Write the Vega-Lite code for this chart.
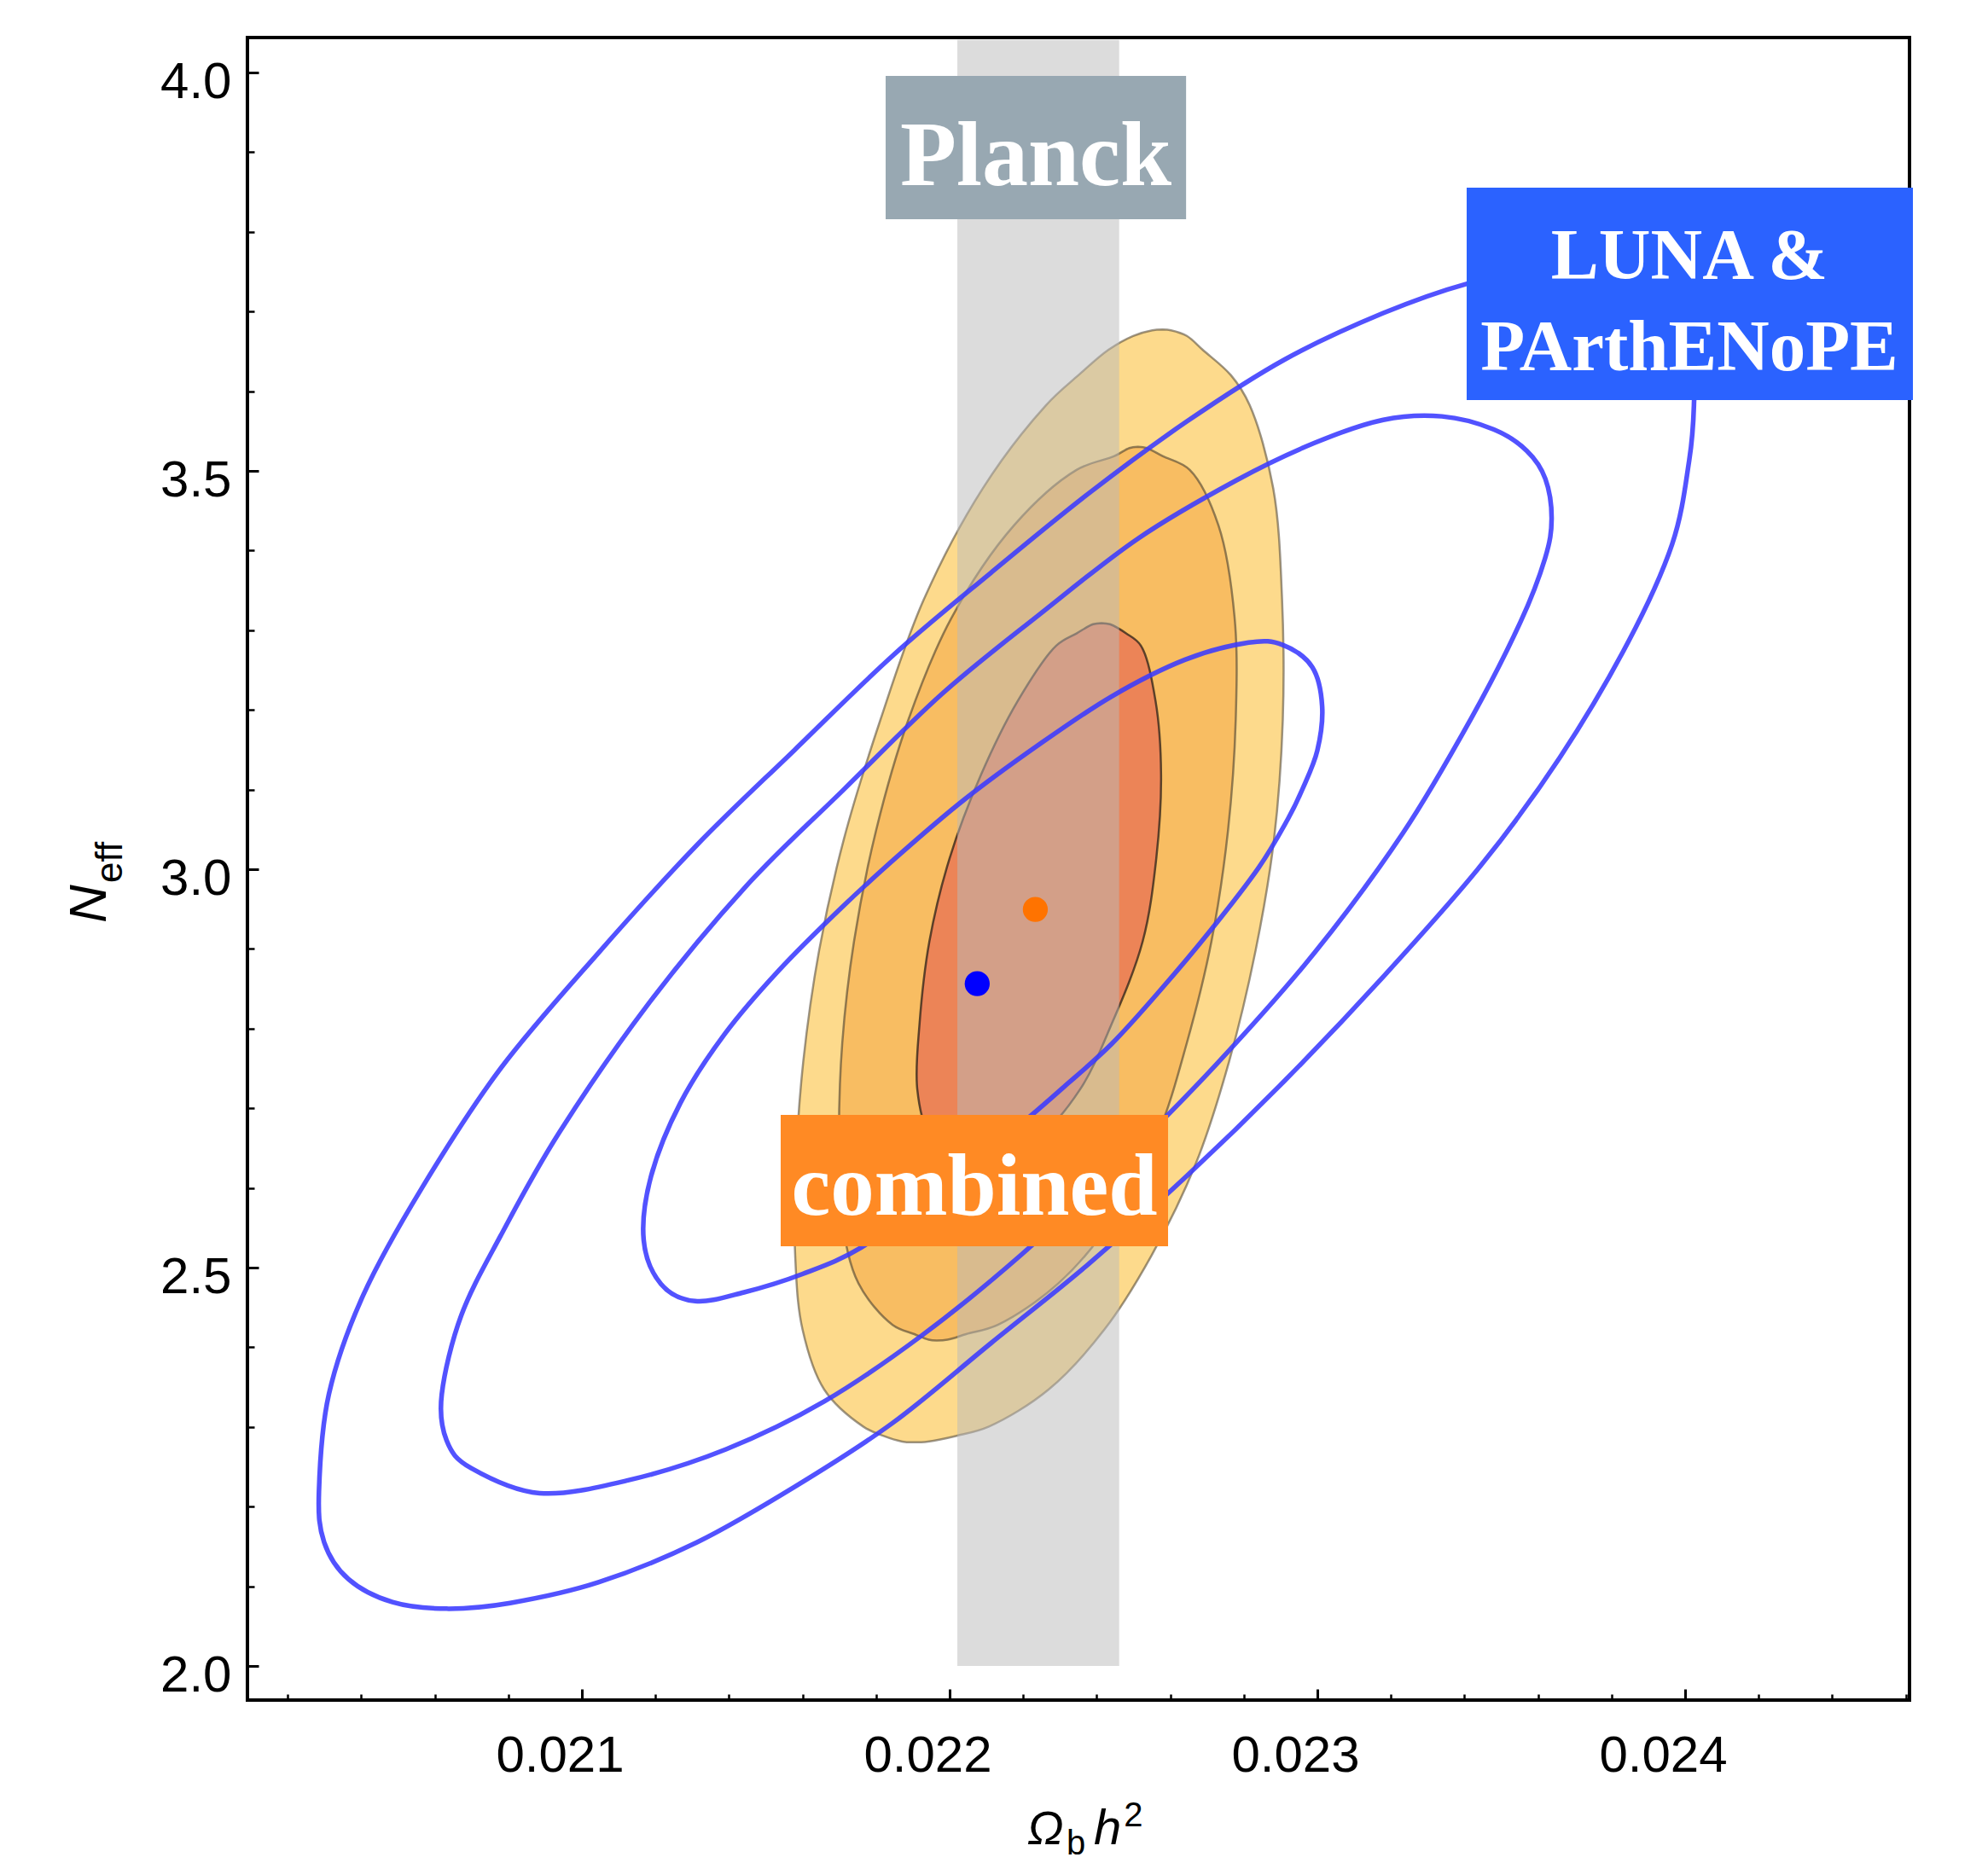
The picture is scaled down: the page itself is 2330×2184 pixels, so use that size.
{
  "$schema": "https://vega.github.io/schema/vega-lite/v6.json",
  "width": 1948,
  "height": 1949,
  "autosize": "none",
  "padding": {"left": 290, "top": 44, "right": 92, "bottom": 191},
  "background": "white",
  "config": {"view": {"stroke": "black", "strokeWidth": 4}},
  "datasets": {
    "o3": [
      {"y": 3.6775, "xl": 0.022579, "xr": 0.022579},
      {"y": 3.6765, "xl": 0.022551, "xr": 0.022602},
      {"y": 3.6694, "xl": 0.022499, "xr": 0.022645},
      {"y": 3.6520, "xl": 0.022432, "xr": 0.022688},
      {"y": 3.6200, "xl": 0.022350, "xr": 0.022765},
      {"y": 3.5824, "xl": 0.022262, "xr": 0.022816},
      {"y": 3.4780, "xl": 0.022090, "xr": 0.022880},
      {"y": 3.3388, "xl": 0.021930, "xr": 0.022904},
      {"y": 3.1879, "xl": 0.021812, "xr": 0.022906},
      {"y": 3.0371, "xl": 0.021712, "xr": 0.022882},
      {"y": 2.8979, "xl": 0.021645, "xr": 0.022832},
      {"y": 2.7587, "xl": 0.021602, "xr": 0.022760},
      {"y": 2.6311, "xl": 0.021582, "xr": 0.022670},
      {"y": 2.5151, "xl": 0.021580, "xr": 0.022549},
      {"y": 2.4223, "xl": 0.021600, "xr": 0.022421},
      {"y": 2.3469, "xl": 0.021659, "xr": 0.022269},
      {"y": 2.3005, "xl": 0.021765, "xr": 0.022107},
      {"y": 2.2889, "xl": 0.021819, "xr": 0.022019},
      {"y": 2.2817, "xl": 0.021871, "xr": 0.021941},
      {"y": 2.2807, "xl": 0.021899, "xr": 0.021899}
    ],
    "o2": [
      {"y": 3.5302, "xl": 0.022512, "xr": 0.022512},
      {"y": 3.5287, "xl": 0.022489, "xr": 0.022536},
      {"y": 3.5186, "xl": 0.022448, "xr": 0.022579},
      {"y": 3.5012, "xl": 0.022345, "xr": 0.022653},
      {"y": 3.4316, "xl": 0.022175, "xr": 0.022731},
      {"y": 3.3155, "xl": 0.022005, "xr": 0.022775},
      {"y": 3.1879, "xl": 0.021888, "xr": 0.022778},
      {"y": 3.0487, "xl": 0.021800, "xr": 0.022757},
      {"y": 2.9095, "xl": 0.021740, "xr": 0.022712},
      {"y": 2.7819, "xl": 0.021708, "xr": 0.022645},
      {"y": 2.6659, "xl": 0.021699, "xr": 0.022565},
      {"y": 2.5615, "xl": 0.021707, "xr": 0.022445},
      {"y": 2.4803, "xl": 0.021752, "xr": 0.022296},
      {"y": 2.4281, "xl": 0.021845, "xr": 0.022131},
      {"y": 2.4165, "xl": 0.021904, "xr": 0.022045},
      {"y": 2.4095, "xl": 0.021943, "xr": 0.021994},
      {"y": 2.4084, "xl": 0.021965, "xr": 0.021965}
    ],
    "o1": [
      {"y": 3.3090, "xl": 0.022413, "xr": 0.022413},
      {"y": 3.3075, "xl": 0.022390, "xr": 0.022436},
      {"y": 3.2960, "xl": 0.022345, "xr": 0.022480},
      {"y": 3.2807, "xl": 0.022290, "xr": 0.022520},
      {"y": 3.2111, "xl": 0.022185, "xr": 0.022560},
      {"y": 3.1183, "xl": 0.022085, "xr": 0.022575},
      {"y": 3.0139, "xl": 0.022000, "xr": 0.022562},
      {"y": 2.9095, "xl": 0.021945, "xr": 0.022525},
      {"y": 2.8051, "xl": 0.021918, "xr": 0.022440},
      {"y": 2.7239, "xl": 0.021912, "xr": 0.022355},
      {"y": 2.6659, "xl": 0.021944, "xr": 0.022245},
      {"y": 2.6485, "xl": 0.021979, "xr": 0.022133},
      {"y": 2.6369, "xl": 0.022059, "xr": 0.022059}
    ],
    "blue": [
      {"c": "3", "x": 0.020285, "y": 2.2193},
      {"c": "3", "x": 0.020299, "y": 2.1555},
      {"c": "3", "x": 0.020365, "y": 2.1091},
      {"c": "3", "x": 0.020485, "y": 2.0801},
      {"c": "3", "x": 0.020632, "y": 2.0719},
      {"c": "3", "x": 0.020805, "y": 2.0790},
      {"c": "3", "x": 0.021045, "y": 2.1050},
      {"c": "3", "x": 0.021312, "y": 2.1550},
      {"c": "3", "x": 0.021579, "y": 2.2250},
      {"c": "3", "x": 0.021845, "y": 2.3050},
      {"c": "3", "x": 0.022112, "y": 2.4050},
      {"c": "3", "x": 0.022379, "y": 2.5050},
      {"c": "3", "x": 0.022645, "y": 2.6150},
      {"c": "3", "x": 0.022912, "y": 2.7350},
      {"c": "3", "x": 0.023179, "y": 2.8650},
      {"c": "3", "x": 0.023445, "y": 3.0050},
      {"c": "3", "x": 0.023659, "y": 3.1400},
      {"c": "3", "x": 0.023845, "y": 3.2850},
      {"c": "3", "x": 0.023965, "y": 3.4084},
      {"c": "3", "x": 0.024011, "y": 3.5128},
      {"c": "3", "x": 0.024024, "y": 3.5824},
      {"c": "3", "x": 0.024021, "y": 3.6645},
      {"c": "3", "x": 0.023955, "y": 3.7110},
      {"c": "3", "x": 0.023835, "y": 3.7400},
      {"c": "3", "x": 0.023688, "y": 3.7480},
      {"c": "3", "x": 0.023515, "y": 3.7410},
      {"c": "3", "x": 0.023411, "y": 3.7355},
      {"c": "3", "x": 0.023179, "y": 3.6980},
      {"c": "3", "x": 0.022912, "y": 3.6400},
      {"c": "3", "x": 0.022645, "y": 3.5620},
      {"c": "3", "x": 0.022379, "y": 3.4720},
      {"c": "3", "x": 0.022112, "y": 3.3720},
      {"c": "3", "x": 0.021845, "y": 3.2680},
      {"c": "3", "x": 0.021579, "y": 3.1500},
      {"c": "3", "x": 0.021312, "y": 3.0300},
      {"c": "3", "x": 0.021045, "y": 2.8950},
      {"c": "3", "x": 0.020779, "y": 2.7500},
      {"c": "3", "x": 0.020565, "y": 2.6000},
      {"c": "3", "x": 0.020405, "y": 2.4650},
      {"c": "3", "x": 0.020312, "y": 2.3411},
      {"c": "2", "x": 0.020619, "y": 2.3411},
      {"c": "2", "x": 0.020632, "y": 2.2831},
      {"c": "2", "x": 0.020699, "y": 2.2483},
      {"c": "2", "x": 0.020885, "y": 2.2169},
      {"c": "2", "x": 0.021125, "y": 2.2330},
      {"c": "2", "x": 0.021392, "y": 2.2720},
      {"c": "2", "x": 0.021659, "y": 2.3320},
      {"c": "2", "x": 0.021925, "y": 2.4150},
      {"c": "2", "x": 0.022192, "y": 2.5150},
      {"c": "2", "x": 0.022459, "y": 2.6300},
      {"c": "2", "x": 0.022725, "y": 2.7550},
      {"c": "2", "x": 0.022992, "y": 2.8950},
      {"c": "2", "x": 0.023232, "y": 3.0450},
      {"c": "2", "x": 0.023419, "y": 3.1900},
      {"c": "2", "x": 0.023552, "y": 3.3100},
      {"c": "2", "x": 0.023619, "y": 3.3900},
      {"c": "2", "x": 0.023637, "y": 3.4400},
      {"c": "2", "x": 0.023620, "y": 3.4900},
      {"c": "2", "x": 0.023570, "y": 3.5250},
      {"c": "2", "x": 0.023480, "y": 3.5520},
      {"c": "2", "x": 0.023339, "y": 3.5684},
      {"c": "2", "x": 0.023179, "y": 3.5640},
      {"c": "2", "x": 0.022992, "y": 3.5350},
      {"c": "2", "x": 0.022779, "y": 3.4880},
      {"c": "2", "x": 0.022512, "y": 3.4150},
      {"c": "2", "x": 0.022245, "y": 3.3200},
      {"c": "2", "x": 0.021979, "y": 3.2200},
      {"c": "2", "x": 0.021712, "y": 3.1000},
      {"c": "2", "x": 0.021445, "y": 2.9780},
      {"c": "2", "x": 0.021179, "y": 2.8300},
      {"c": "2", "x": 0.020939, "y": 2.6700},
      {"c": "2", "x": 0.020779, "y": 2.5400},
      {"c": "2", "x": 0.020672, "y": 2.4400},
      {"c": "1", "x": 0.021168, "y": 2.5347},
      {"c": "1", "x": 0.021215, "y": 2.4795},
      {"c": "1", "x": 0.021308, "y": 2.4579},
      {"c": "1", "x": 0.021441, "y": 2.4690},
      {"c": "1", "x": 0.021600, "y": 2.4920},
      {"c": "1", "x": 0.021761, "y": 2.5255},
      {"c": "1", "x": 0.021950, "y": 2.5900},
      {"c": "1", "x": 0.022100, "y": 2.6450},
      {"c": "1", "x": 0.022214, "y": 2.6880},
      {"c": "1", "x": 0.022307, "y": 2.7253},
      {"c": "1", "x": 0.022440, "y": 2.7805},
      {"c": "1", "x": 0.022573, "y": 2.8482},
      {"c": "1", "x": 0.022707, "y": 2.9218},
      {"c": "1", "x": 0.022840, "y": 3.0018},
      {"c": "1", "x": 0.022920, "y": 3.0632},
      {"c": "1", "x": 0.022959, "y": 3.1001},
      {"c": "1", "x": 0.023000, "y": 3.1493},
      {"c": "1", "x": 0.023013, "y": 3.2046},
      {"c": "1", "x": 0.022986, "y": 3.2537},
      {"c": "1", "x": 0.022906, "y": 3.2814},
      {"c": "1", "x": 0.022813, "y": 3.2845},
      {"c": "1", "x": 0.022640, "y": 3.2630},
      {"c": "1", "x": 0.022440, "y": 3.2168},
      {"c": "1", "x": 0.022240, "y": 3.1554},
      {"c": "1", "x": 0.022041, "y": 3.0878},
      {"c": "1", "x": 0.021868, "y": 3.0202},
      {"c": "1", "x": 0.021708, "y": 2.9526},
      {"c": "1", "x": 0.021535, "y": 2.8727},
      {"c": "1", "x": 0.021388, "y": 2.7929},
      {"c": "1", "x": 0.021268, "y": 2.7068},
      {"c": "1", "x": 0.021188, "y": 2.6146}
    ],
    "best": [
      {"s": "combined", "x": 0.022233, "y": 2.9496},
      {"s": "LUNA", "x": 0.022075, "y": 2.8564}
    ]
  },
  "layer": [
    {
      "data": {"name": "o3"},
      "mark": {"type": "area", "orient": "horizontal", "interpolate": "catmull-rom", "fill": "#fdda8c", "fillOpacity": 1, "stroke": "#5a5040", "strokeOpacity": 0.6, "strokeWidth": 2.5},
      "encoding": {
        "x": {"field": "xl", "type": "quantitative",
          "scale": {"domain": [0.0200905, 0.0246102], "nice": false, "zero": false},
          "axis": {"orient": "bottom", "values": [0.021, 0.022, 0.023, 0.024], "format": ".3f", "ticks": false, "domain": false, "grid": false, "labelFont": "Liberation Sans", "labelFontSize": 60, "labelColor": "black", "labelPadding": 36, "labelOffset": -26, "labelFlush": false, "labelOverlap": false, "title": null}},
        "x2": {"field": "xr"},
        "y": {"field": "y", "type": "quantitative",
          "scale": {"domain": [1.9572, 4.0439], "nice": false, "zero": false},
          "axis": {"orient": "left", "values": [2, 2.5, 3, 3.5, 4], "format": ".1f", "ticks": false, "domain": false, "grid": false, "labelFont": "Liberation Sans", "labelFontSize": 60, "labelColor": "black", "labelPadding": 19, "labelOffset": 11, "labelFlush": false, "labelOverlap": false, "title": null}}
      }
    },
    {
      "data": {"name": "o2"},
      "mark": {"type": "area", "orient": "horizontal", "interpolate": "catmull-rom", "fill": "#f8bd62", "fillOpacity": 1, "stroke": "#4a4030", "strokeOpacity": 0.6, "strokeWidth": 2.5},
      "encoding": {
        "x": {"field": "xl", "type": "quantitative",
          "axis": {"orient": "bottom", "values": [0.021, 0.022, 0.023, 0.024], "labels": false, "domain": false, "grid": false, "ticks": true, "tickSize": -13, "tickWidth": 3, "tickColor": "black", "title": null}},
        "x2": {"field": "xr"},
        "y": {"field": "y", "type": "quantitative",
          "axis": {"orient": "left", "values": [2, 2.5, 3, 3.5, 4], "labels": false, "domain": false, "grid": false, "ticks": true, "tickSize": -13, "tickWidth": 3, "tickColor": "black", "title": null}}
      }
    },
    {
      "data": {"name": "o1"},
      "mark": {"type": "area", "orient": "horizontal", "interpolate": "catmull-rom", "fill": "#ec8457", "fillOpacity": 1, "stroke": "#2a2018", "strokeOpacity": 0.75, "strokeWidth": 2.5},
      "encoding": {
        "x": {"field": "xl", "type": "quantitative",
          "axis": {"orient": "bottom", "values": [0.0202, 0.0204, 0.0206, 0.0208, 0.021, 0.0212, 0.0214, 0.0216, 0.0218, 0.022, 0.0222, 0.0224, 0.0226, 0.0228, 0.023, 0.0232, 0.0234, 0.0236, 0.0238, 0.024, 0.0242, 0.0244, 0.0246], "labels": false, "domain": false, "grid": false, "ticks": true, "tickSize": -7, "tickWidth": 2.5, "tickColor": "black", "title": null}},
        "x2": {"field": "xr"},
        "y": {"field": "y", "type": "quantitative",
          "axis": {"orient": "left", "values": [2, 2.1, 2.2, 2.3, 2.4, 2.5, 2.6, 2.7, 2.8, 2.9, 3, 3.1, 3.2, 3.3, 3.4, 3.5, 3.6, 3.7, 3.8, 3.9, 4], "labels": false, "domain": false, "grid": false, "ticks": true, "tickSize": -8, "tickWidth": 2.5, "tickColor": "black", "title": null}}
      }
    },
    {
      "data": {"values": [{}]},
      "mark": {"type": "rect", "color": "#b9b9b9", "opacity": 0.5},
      "encoding": {
        "x": {"datum": 0.022021, "type": "quantitative", "axis": null},
        "x2": {"datum": 0.022461},
        "y": {"datum": 2.0, "type": "quantitative", "axis": null},
        "y2": {"datum": 4.041}
      }
    },
    {
      "data": {"name": "blue"},
      "mark": {"type": "line", "interpolate": "cardinal-closed", "stroke": "#3a3aff", "strokeOpacity": 0.88, "strokeWidth": 5.5},
      "encoding": {
        "x": {"field": "x", "type": "quantitative", "axis": null},
        "y": {"field": "y", "type": "quantitative", "axis": null},
        "detail": {"field": "c"},
        "order": {"value": null}
      }
    },
    {
      "data": {"name": "best"},
      "mark": {"type": "circle", "size": 860, "opacity": 1},
      "encoding": {
        "x": {"field": "x", "type": "quantitative", "axis": null},
        "y": {"field": "y", "type": "quantitative", "axis": null},
        "color": {"field": "s", "type": "nominal", "scale": {"domain": ["combined", "LUNA"], "range": ["#ff7300", "#0000ff"]}, "legend": null}
      }
    },
    {
      "data": {"values": [{}]},
      "mark": {"type": "rect", "color": "#98a8b2"},
      "encoding": {
        "x": {"datum": 0.021826, "type": "quantitative", "axis": null},
        "x2": {"datum": 0.022643},
        "y": {"datum": 3.99572, "type": "quantitative", "axis": null},
        "y2": {"datum": 3.81585}
      }
    },
    {
      "data": {"values": [{}]},
      "mark": {"type": "text", "text": "Planck", "font": "Liberation Serif", "fontWeight": "bold", "fontSize": 108, "fill": "white", "align": "center", "baseline": "alphabetic"},
      "encoding": {
        "x": {"datum": 0.0222343, "type": "quantitative", "axis": null},
        "y": {"datum": 3.85867, "type": "quantitative", "axis": null}
      }
    },
    {
      "data": {"values": [{}]},
      "mark": {"type": "rect", "color": "#ff8a24"},
      "encoding": {
        "x": {"datum": 0.0215406, "type": "quantitative", "axis": null},
        "x2": {"datum": 0.022594},
        "y": {"datum": 2.69165, "type": "quantitative", "axis": null},
        "y2": {"datum": 2.52677}
      }
    },
    {
      "data": {"values": [{}]},
      "mark": {"type": "text", "text": "combined", "font": "Liberation Serif", "fontWeight": "bold", "fontSize": 103, "fill": "white", "align": "center", "baseline": "alphabetic"},
      "encoding": {
        "x": {"datum": 0.0220673, "type": "quantitative", "axis": null},
        "y": {"datum": 2.5664, "type": "quantitative", "axis": null}
      }
    },
    {
      "data": {"values": [{}]},
      "mark": {"type": "rect", "color": "#2b62ff"},
      "encoding": {
        "x": {"datum": 0.023406, "type": "quantitative", "axis": null},
        "x2": {"datum": 0.0246195},
        "y": {"datum": 3.85546, "type": "quantitative", "axis": null},
        "y2": {"datum": 3.58887}
      }
    },
    {
      "data": {"values": [{}]},
      "mark": {"type": "text", "text": "LUNA &", "font": "Liberation Serif", "fontWeight": "bold", "fontSize": 84, "fill": "white", "align": "center", "baseline": "alphabetic"},
      "encoding": {
        "x": {"datum": 0.0240116, "type": "quantitative", "axis": null},
        "y": {"datum": 3.7409, "type": "quantitative", "axis": null}
      }
    },
    {
      "data": {"values": [{}]},
      "mark": {"type": "text", "text": "PArthENoPE", "font": "Liberation Serif", "fontWeight": "bold", "fontSize": 85, "fill": "white", "align": "center", "baseline": "alphabetic"},
      "encoding": {
        "x": {"datum": 0.0240116, "type": "quantitative", "axis": null},
        "y": {"datum": 3.62634, "type": "quantitative", "axis": null}
      }
    },
    {
      "data": {"values": [{}]},
      "mark": {"type": "text", "text": "Ω", "font": "Liberation Sans", "fontStyle": "italic", "fontSize": 56, "fill": "black", "align": "left", "baseline": "alphabetic"},
      "encoding": {
        "x": {"datum": 0.022211, "type": "quantitative", "axis": null},
        "y": {"datum": 1.77623, "type": "quantitative", "axis": null}
      }
    },
    {
      "data": {"values": [{}]},
      "mark": {"type": "text", "text": "b", "font": "Liberation Sans", "fontSize": 40, "fill": "black", "align": "left", "baseline": "alphabetic"},
      "encoding": {
        "x": {"datum": 0.022318, "type": "quantitative", "axis": null},
        "y": {"datum": 1.7634, "type": "quantitative", "axis": null}
      }
    },
    {
      "data": {"values": [{}]},
      "mark": {"type": "text", "text": "h", "font": "Liberation Sans", "fontStyle": "italic", "fontSize": 58, "fill": "black", "align": "left", "baseline": "alphabetic"},
      "encoding": {
        "x": {"datum": 0.022392, "type": "quantitative", "axis": null},
        "y": {"datum": 1.77623, "type": "quantitative", "axis": null}
      }
    },
    {
      "data": {"values": [{}]},
      "mark": {"type": "text", "text": "2", "font": "Liberation Sans", "fontSize": 40, "fill": "black", "align": "left", "baseline": "alphabetic"},
      "encoding": {
        "x": {"datum": 0.022474, "type": "quantitative", "axis": null},
        "y": {"datum": 1.79872, "type": "quantitative", "axis": null}
      }
    },
    {
      "data": {"values": [{}]},
      "mark": {"type": "text", "text": "N", "angle": 270, "font": "Liberation Sans", "fontStyle": "italic", "fontSize": 62, "fill": "black", "align": "left", "baseline": "alphabetic"},
      "encoding": {
        "x": {"datum": 0.0197053, "type": "quantitative", "axis": null},
        "y": {"datum": 2.93255, "type": "quantitative", "axis": null}
      }
    },
    {
      "data": {"values": [{}]},
      "mark": {"type": "text", "text": "eff", "angle": 270, "font": "Liberation Sans", "fontSize": 44, "fill": "black", "align": "left", "baseline": "alphabetic"},
      "encoding": {
        "x": {"datum": 0.0197494, "type": "quantitative", "axis": null},
        "y": {"datum": 2.98287, "type": "quantitative", "axis": null}
      }
    }
  ],
  "resolve": {"axis": {"x": "independent", "y": "independent"}}
}
